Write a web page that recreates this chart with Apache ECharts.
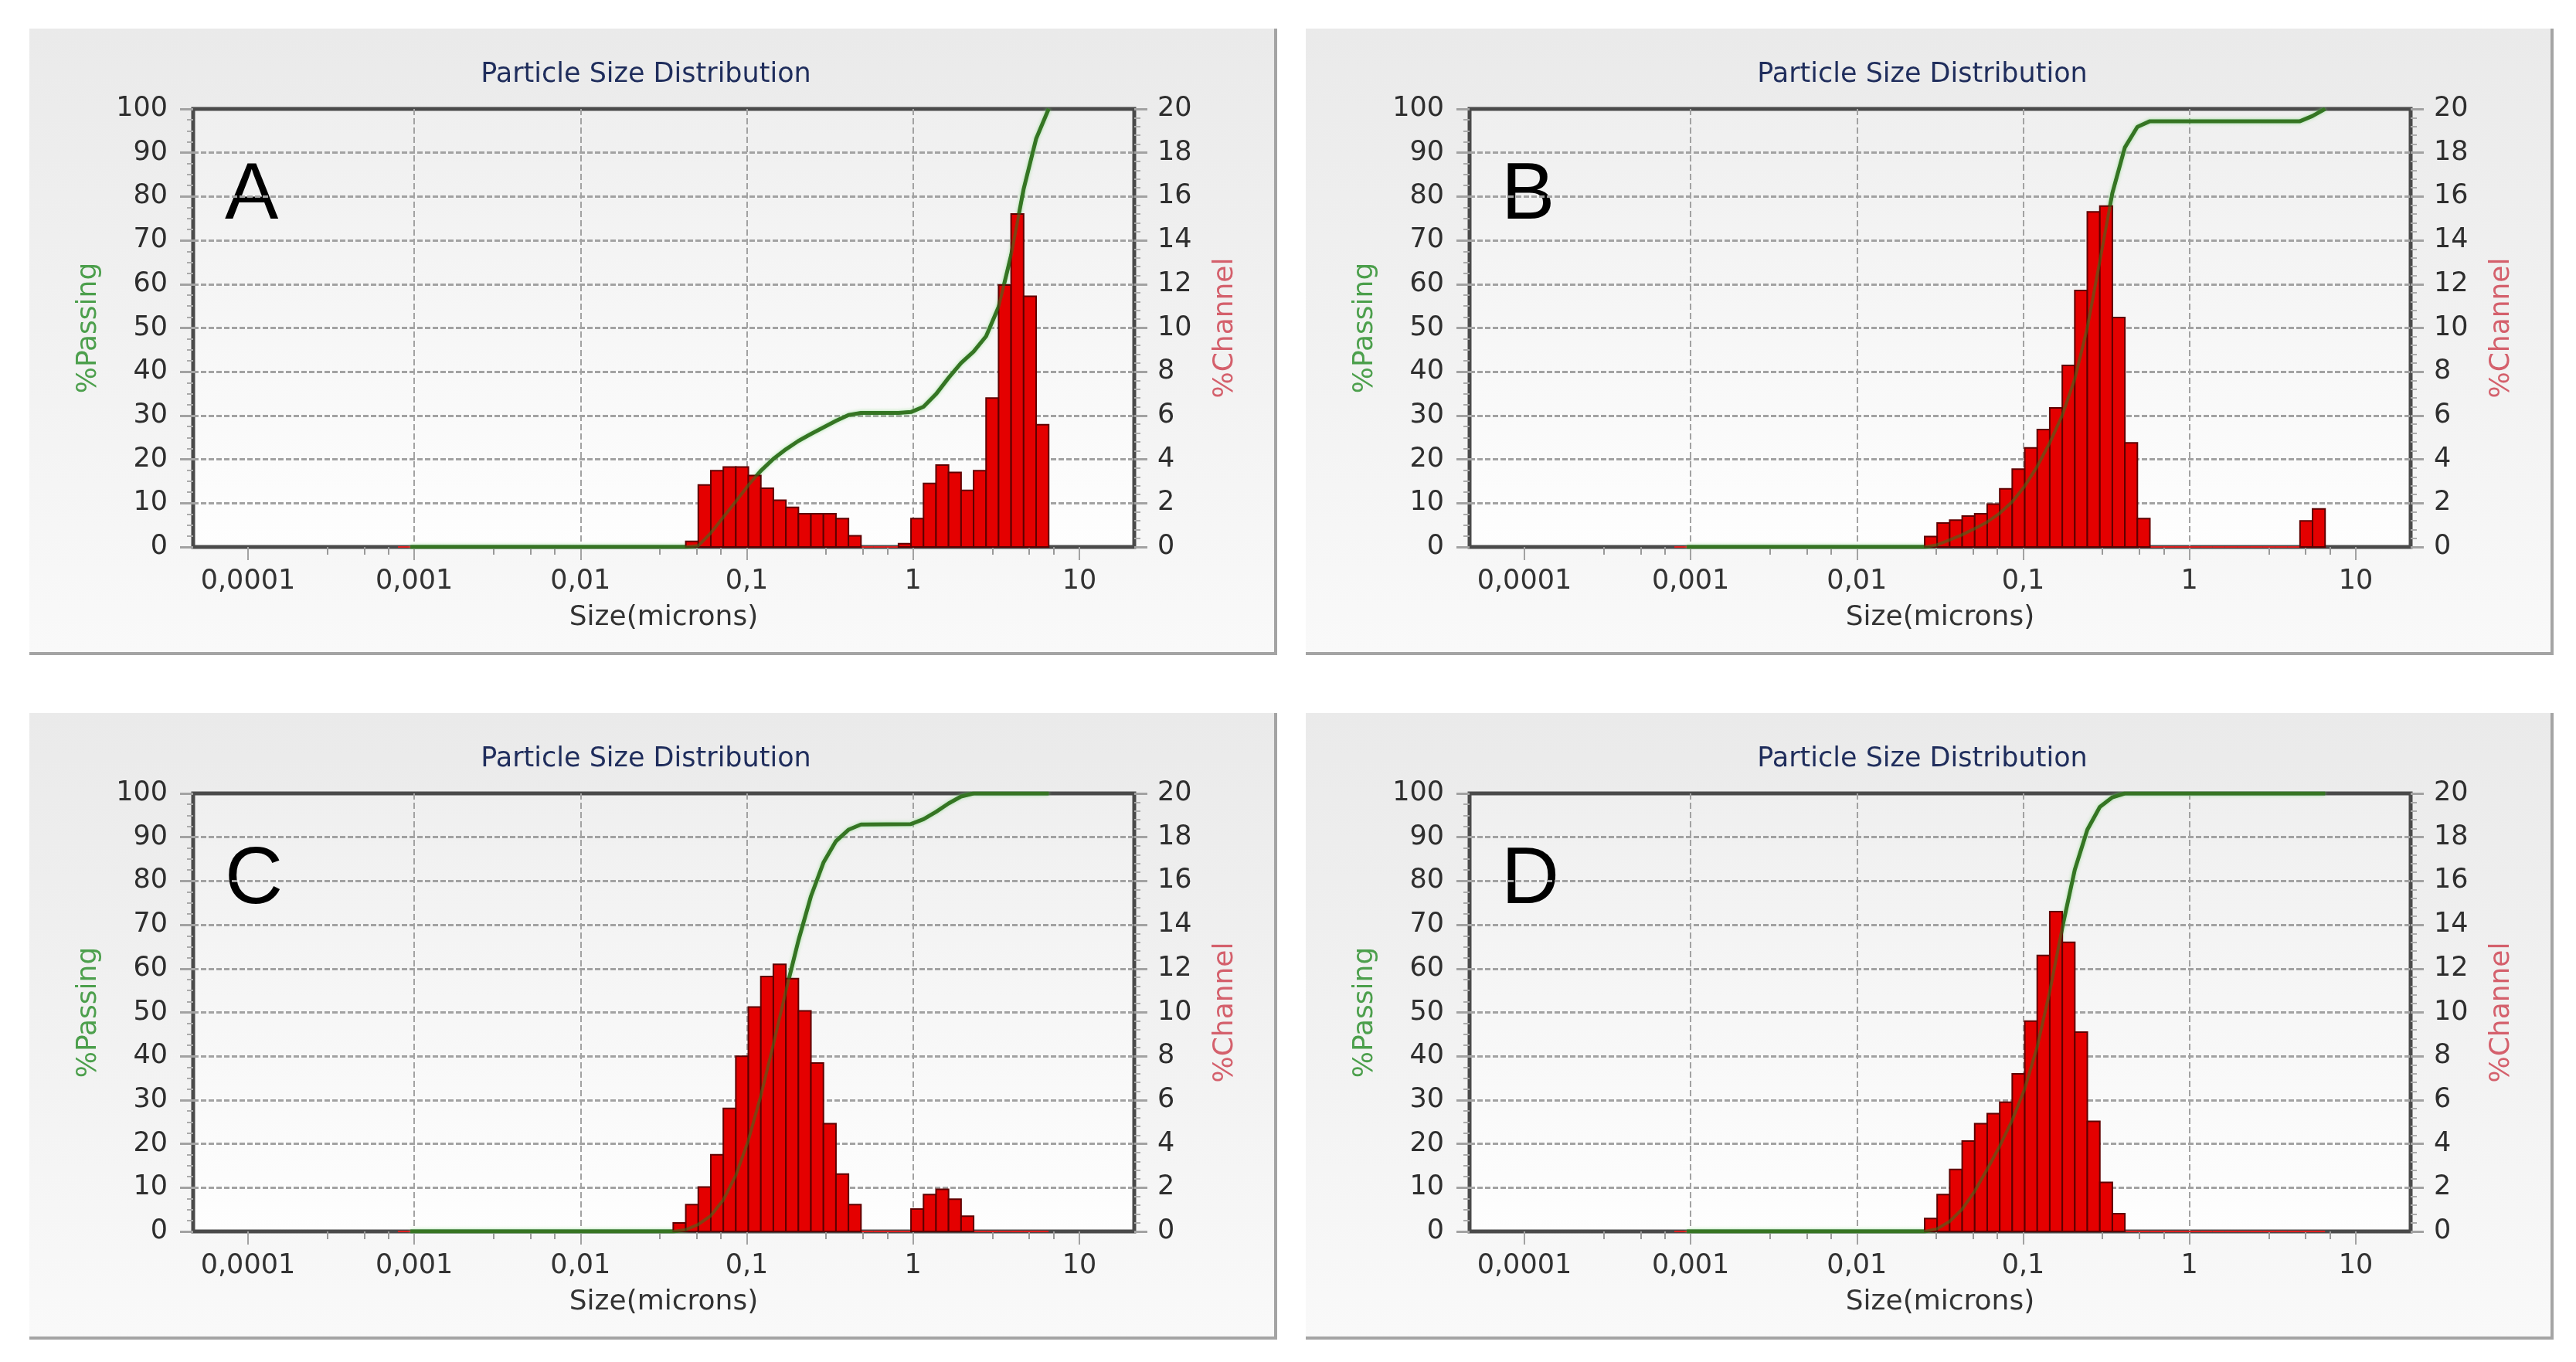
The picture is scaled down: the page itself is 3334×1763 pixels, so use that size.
<!DOCTYPE html>
<html><head><meta charset="utf-8">
<script src="https://cdn.jsdelivr.net/npm/echarts@6/dist/echarts.min.js"></script>
<style>
html,body{margin:0;padding:0;background:#fff;width:3334px;height:1763px;overflow:hidden}
.panel{position:absolute;width:1615px;height:811px;box-sizing:border-box;background:linear-gradient(#eaeaea,#f9f9f9);border-right:4px solid #a4a4a4;border-bottom:4px solid #a4a4a4}
</style></head><body>
<div id="pA" class="panel" style="left:38px;top:37px"></div>
<div id="pB" class="panel" style="left:1690px;top:37px"></div>
<div id="pC" class="panel" style="left:38px;top:923px"></div>
<div id="pD" class="panel" style="left:1690px;top:923px"></div>
<script>
// channel edges (microns)
const channelEdges = [0.000798,0.000949,0.001129,0.001343,0.001597,0.001899,0.002258,0.002686,0.003194,0.003798,0.004517,0.005371,0.006387,0.007596,0.009033,0.01074,0.01278,0.01519,0.01807,0.02148,0.02555,0.03038,0.03613,0.04297,0.05110,0.06077,0.07227,0.08594,0.1022,0.1215,0.1445,0.1719,0.2044,0.2431,0.2891,0.3438,0.4088,0.4861,0.5781,0.6875,0.8176,0.9723,1.156,1.375,1.635,1.945,2.313,2.750,3.270,3.889,4.625,5.500,6.541];

// %Channel per channel (52 channels)
const channelA = [0,0,0,0,0,0,0,0,0,0,0,0,0,0,0,0,0,0,0,0,0,0,0,
  0.26,2.83,3.48,3.65,3.65,3.26,2.68,2.13,1.81,1.52,1.52,1.52,1.30,0.51,
  0,0,0,
  0.15,1.30,2.90,3.74,3.40,2.58,3.48,6.80,11.96,15.20,11.45,5.58];
const channelB = [0,0,0,0,0,0,0,0,0,0,0,0,0,0,0,0,0,0,0,0,
  0.48,1.09,1.23,1.41,1.52,1.96,2.65,3.55,4.52,5.36,6.35,8.29,11.71,15.30,15.56,10.48,4.75,1.30,
  0,0,0,0,0,0,0,0,0,0,0,0,
  1.19,1.74];
const channelC = [0,0,0,0,0,0,0,0,0,0,0,0,0,0,0,0,0,0,0,0,0,0,
  0.39,1.23,2.03,3.50,5.62,8.00,10.25,11.64,12.20,11.54,10.07,7.69,4.92,2.62,1.23,
  0,0,0,0,
  1.02,1.68,1.92,1.47,0.70,
  0,0,0,0,0,0];
const channelD = [0,0,0,0,0,0,0,0,0,0,0,0,0,0,0,0,0,0,0,0,
  0.59,1.68,2.83,4.13,4.92,5.38,5.90,7.20,9.60,12.60,14.60,13.20,9.10,5.03,2.24,0.81,
  0,0,0,0,0,0,0,0,0,0,0,0,0,0,0,0];

// %Passing curves [size, %]
const passingA = [[0.000949,0],[0.04297,0],[0.0511,0.3],[0.06077,3.2],[0.07227,6.8],[0.08594,10.4],[0.1022,14.1],[0.1215,17.4],[0.1445,20.1],[0.1719,22.3],[0.2044,24.2],[0.2431,25.8],[0.2891,27.3],[0.3438,28.8],[0.4088,30.1],[0.4861,30.6],[0.8176,30.6],[0.9723,30.8],[1.156,32.0],[1.375,34.9],[1.635,38.6],[1.945,42.0],[2.313,44.6],[2.750,48.1],[3.270,54.8],[3.889,66.6],[4.625,81.7],[5.500,93.2],[6.541,100]];
const passingB = [[0.000949,0],[0.02555,0],[0.03038,0.5],[0.03613,1.6],[0.04297,2.8],[0.0511,4.2],[0.06077,5.7],[0.07227,7.7],[0.08594,10.3],[0.1022,13.9],[0.1215,18.4],[0.1445,23.8],[0.1719,30.1],[0.2044,38.4],[0.2431,50.1],[0.2891,65.3],[0.3438,80.8],[0.4088,91.2],[0.4861,95.9],[0.5781,97.2],[4.625,97.2],[5.500,98.4],[6.541,100]];
const passingC = [[0.000949,0],[0.03613,0],[0.04297,0.4],[0.0511,1.6],[0.06077,3.6],[0.07227,7.2],[0.08594,12.8],[0.1022,20.8],[0.1215,31.0],[0.1445,42.7],[0.1719,54.9],[0.2044,66.4],[0.2431,76.5],[0.2891,84.2],[0.3438,89.1],[0.4088,91.7],[0.4861,92.9],[0.9723,93.0],[1.156,94.1],[1.375,95.8],[1.635,97.7],[1.945,99.3],[2.313,100],[6.541,100]];
const passingD = [[0.000949,0],[0.02555,0],[0.03038,0.6],[0.03613,2.3],[0.04297,5.1],[0.0511,9.2],[0.06077,14.2],[0.07227,19.5],[0.08594,25.4],[0.1022,32.6],[0.1215,42.2],[0.1445,54.8],[0.1719,69.4],[0.2044,82.6],[0.2431,91.7],[0.2891,96.9],[0.3438,99.1],[0.4088,100],[6.541,100]];

const xTickValues = [0.0001,0.001,0.01,0.1,1,10];
const xTickLabels = ['0,0001','0,001','0,01','0,1','1','10'];
const xMinorTickValues = [0.0003,0.0005,0.0007,0.003,0.005,0.007,0.03,0.05,0.07,0.3,0.5,0.7,3,5,7];
const xRange = [0.0000468, 21.4];
const panelTitle = 'Particle Size Distribution';
const xName = 'Size(microns)';
const yLeftName = '%Passing';
const yRightName = '%Channel';

const FONT = 'DejaVu Sans';
const gridCol = '#a2a2a2';

function xLabel(v){
  const i = xTickValues.findIndex(t => Math.abs(t - v) <= t * 1e-6);
  return i >= 0 ? xTickLabels[i] : '';
}

function barSeries(values, z, zeroOnly){
  const data = values.map((v, i) => [channelEdges[i], channelEdges[i + 1], v]);
  return {
    type: 'custom', xAxisIndex: 0, yAxisIndex: 1, z: z, silent: true, animation: false,
    encode: {x: [0, 1], y: 2},
    data: data,
    renderItem: function(params, api){
      const lo = api.value(0), hi = api.value(1), v = api.value(2);
      const p0 = api.coord([lo, 0]);
      const p1 = api.coord([hi, v]);
      if (zeroOnly) {
        if (v !== 0) return null;
        return {type: 'line', shape: {x1: p0[0], y1: p0[1], x2: p1[0], y2: p0[1]},
          style: {stroke: '#e02020', lineWidth: 2}};
      }
      if (v === 0) return null;
      return {type: 'rect', shape: {x: p0[0], y: p1[1], width: p1[0] - p0[0], height: p0[1] - p1[1]},
        style: {fill: '#e40000', stroke: '#5e0000', lineWidth: 2}};
    }
  };
}

function makeOption(letter, channel, passing){
  return {
    animation: false,
    textStyle: {fontFamily: FONT},
    grid: {left: 212, top: 104, width: 1218, height: 567, show: true,
      borderWidth: 5, borderColor: '#4a4a4a',
      backgroundColor: new echarts.graphic.LinearGradient(0, 0, 0, 1, [{offset: 0, color: '#efefef'}, {offset: 1, color: '#fefefe'}])},
    graphic: [
      {type: 'text', x: 798, y: 60, silent: true,
        style: {text: panelTitle, font: '35px "DejaVu Sans"', fill: '#1f2d5c', textAlign: 'center', textVerticalAlign: 'middle'}},
      {type: 'text', x: 253, y: 217, silent: true,
        style: {text: letter, font: '104px "Liberation Sans"', fill: '#000', textAlign: 'left', textVerticalAlign: 'middle'}}
    ],
    xAxis: [
      {type: 'log', min: xRange[0], max: xRange[1], position: 'bottom',
        name: xName, nameLocation: 'middle', nameGap: 74,
        nameTextStyle: {fontSize: 36, color: '#333', fontFamily: FONT},
        axisLine: {show: false},
        axisTick: {show: true, customValues: xTickValues, length: 17, lineStyle: {color: gridCol, width: 2}},
        axisLabel: {show: true, customValues: xTickValues, formatter: xLabel, margin: 27, fontSize: 35, color: '#333', fontFamily: FONT},
        splitLine: {show: true, showMinLine: false, showMaxLine: false, lineStyle: {color: gridCol, width: 2, type: [8, 4]}},
        minorTick: {show: false}, minorSplitLine: {show: false}},
      {type: 'log', min: xRange[0], max: xRange[1], position: 'bottom',
        axisLine: {show: false},
        axisTick: {show: true, customValues: xMinorTickValues, length: 10, lineStyle: {color: '#999', width: 2}},
        axisLabel: {show: false}, splitLine: {show: false}}
    ],
    yAxis: [
      {type: 'value', min: 0, max: 100, interval: 10, position: 'left',
        name: yLeftName, nameLocation: 'middle', nameGap: 117,
        nameTextStyle: {fontSize: 36, color: '#4c9f4c', fontFamily: FONT},
        axisLine: {show: false},
        axisTick: {show: true, length: 17, lineStyle: {color: gridCol, width: 3}},
        minorTick: {show: true, splitNumber: 4, length: 8, lineStyle: {color: '#aaa', width: 2}},
        axisLabel: {margin: 33, fontSize: 35, color: '#2e2e2e', fontFamily: FONT},
        splitLine: {show: true, showMinLine: false, showMaxLine: false, lineStyle: {color: gridCol, width: 3, type: [7, 3]}}},
      {type: 'value', min: 0, max: 20, interval: 2, position: 'right',
        name: yRightName, nameLocation: 'middle', nameGap: 100,
        nameTextStyle: {fontSize: 36, color: '#d4606c', fontFamily: FONT},
        axisLine: {show: false},
        axisTick: {show: true, length: 17, lineStyle: {color: gridCol, width: 3}},
        minorTick: {show: true, splitNumber: 5, length: 8, lineStyle: {color: '#aaa', width: 2}},
        axisLabel: {margin: 30, fontSize: 35, color: '#2e2e2e', fontFamily: FONT},
        splitLine: {show: false}}
    ],
    series: [
      barSeries(channel, 1, true),
      {type: 'line', xAxisIndex: 0, yAxisIndex: 0, data: passing, symbol: 'none', silent: true, z: 2,
        lineStyle: {color: '#2f7d2a', width: 5, shadowColor: 'rgba(130,215,120,0.7)', shadowBlur: 4}},
      barSeries(channel, 3, false),
      {type: 'line', xAxisIndex: 0, yAxisIndex: 0, data: passing, symbol: 'none', silent: true, z: 4,
        lineStyle: {color: '#3c6e1e', width: 4, opacity: 0.6}}
    ]
  };
}

const panels = [['pA', 'A', channelA, passingA], ['pB', 'B', channelB, passingB], ['pC', 'C', channelC, passingC], ['pD', 'D', channelD, passingD]];
panels.forEach(function(p){
  const chart = echarts.init(document.getElementById(p[0]), null, {renderer: 'canvas'});
  chart.setOption(makeOption(p[1], p[2], p[3]));
});
</script>
</body></html>
